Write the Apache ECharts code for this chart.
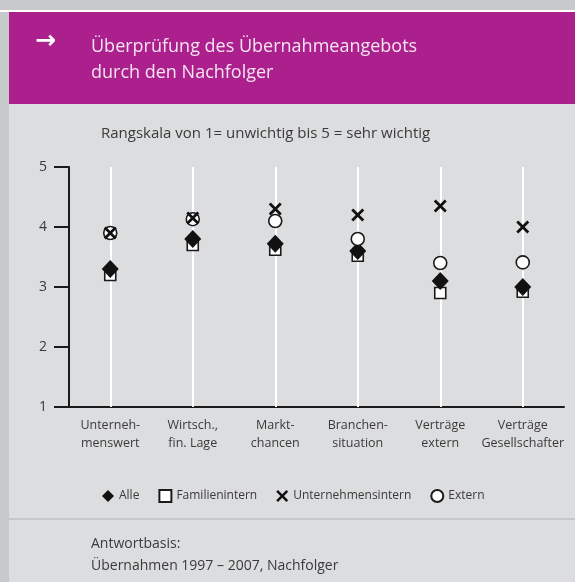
<!DOCTYPE html>
<html>
<head>
<meta charset="utf-8">
<script src="https://cdn.jsdelivr.net/npm/echarts@6/dist/echarts.min.js"></script>
<style>
  html, body { margin: 0; padding: 0; background: #c8c9cb; }
  #main { width: 575px; height: 582px; }
</style>
</head>
<body>
<div id="main"></div>
<script>
// Überprüfung des Übernahmeangebots – Rangskala 1..5

var categories = [
    'Unterneh-\nmenswert',
    'Wirtsch.,\nfin. Lage',
    'Markt-\nchancen',
    'Branchen-\nsituation',
    'Verträge\nextern',
    'Verträge\nGesellschafter'
];
var alle = [3.3, 3.8, 3.72, 3.6, 3.1, 3.0];
var familienintern = [3.2, 3.7, 3.62, 3.52, 2.9, 2.92];
var unternehmensintern = [3.9, 4.15, 4.3, 4.2, 4.35, 4.0];
var extern = [3.9, 4.13, 4.1, 3.8, 3.4, 3.41];
var yTicks = [1, 2, 3, 4, 5];

var textColor = '#3a3a3a';
var fontName = 'Open Sans';
var crossPath = 'path://M0,3L3,0L10,7L17,0L20,3L13,10L20,17L17,20L10,13L3,20L0,17L7,10Z';

var myChart = echarts.init(document.getElementById('main'));

var option = {
    animation: false,
    backgroundColor: '#c8c9cb',
    textStyle: { fontFamily: fontName },
    graphic: [
        { type: 'rect', shape: { x: 0, y: 10, width: 575, height: 2 }, style: { fill: '#ffffff' }, z: -10 },
        { type: 'rect', shape: { x: 9, y: 12, width: 566, height: 92 }, style: { fill: '#ab208c' }, z: -10 },
        { type: 'rect', shape: { x: 9, y: 104, width: 566, height: 478 }, style: { fill: '#dcdddf' }, z: -10 },
        { type: 'rect', shape: { x: 9, y: 518, width: 566, height: 2 }, style: { fill: '#c6c7c9' }, z: -9 },
        {
            type: 'text', left: 35, top: 29,
            style: { text: '→', fill: '#ffffff', font: 'bold 25px "DejaVu Sans"' }
        },
        {
            type: 'text', left: 91, top: 34,
            style: {
                text: 'Überprüfung des Übernahmeangebots\ndurch den Nachfolger',
                fill: '#f6e4f2', font: '18px "Open Sans"', lineHeight: 26
            }
        },
        {
            type: 'text', left: 101, top: 126,
            style: {
                text: 'Rangskala von 1= unwichtig bis 5 = sehr wichtig',
                fill: textColor, font: '15px "Open Sans"'
            }
        },
        {
            type: 'text', left: 91, top: 533,
            style: {
                text: 'Antwortbasis:\nÜbernahmen 1997 – 2007, Nachfolger',
                fill: textColor, font: '14px "Open Sans"', lineHeight: 22
            }
        }
    ],
    legend: {
        top: 484,
        left: 97,
        itemWidth: 12,
        itemHeight: 12,
        itemGap: 19,
        textStyle: { color: textColor, fontSize: 12, fontFamily: fontName },
        data: ['Alle', 'Familienintern', 'Unternehmensintern', 'Extern']
    },
    grid: {
        left: 69,
        top: 167,
        width: 495,
        height: 240
    },
    xAxis: {
        type: 'category',
        data: categories,
        axisLine: { lineStyle: { color: '#1a1a1a', width: 2 } },
        axisTick: { show: false },
        axisLabel: { interval: 0, color: textColor, fontSize: 12.5, lineHeight: 18, margin: 9, fontFamily: fontName },
        splitLine: { show: false }
    },
    yAxis: {
        type: 'value',
        min: yTicks[0],
        max: yTicks[yTicks.length - 1],
        interval: 1,
        axisLine: { show: true, lineStyle: { color: '#1a1a1a', width: 2 } },
        axisTick: { show: true, length: 15, lineStyle: { color: '#1a1a1a', width: 2 } },
        axisLabel: { color: textColor, fontSize: 14, margin: 22, fontFamily: fontName },
        splitLine: { show: false }
    },
    series: [
        {
            name: 'Familienintern',
            type: 'scatter',
            data: familienintern,
            symbol: 'rect',
            symbolSize: 11,
            z: 3,
            itemStyle: { color: '#ffffff', borderColor: '#1a1a1a', borderWidth: 1.6, opacity: 1 },
            markLine: {
                silent: true,
                symbol: ['none', 'none'],
                label: { show: false },
                lineStyle: { color: '#ffffff', width: 2, type: 'solid' },
                data: categories.map(function (c) { return { xAxis: c }; }),
                z: 1
            }
        },
        {
            name: 'Alle',
            type: 'scatter',
            data: alle,
            symbol: 'diamond',
            symbolSize: [17, 18],
            z: 4,
            itemStyle: { color: '#111111', opacity: 1 }
        },
        {
            name: 'Extern',
            type: 'scatter',
            data: extern,
            symbol: 'circle',
            symbolSize: 13,
            z: 5,
            itemStyle: { color: '#ffffff', borderColor: '#1a1a1a', borderWidth: 1.6, opacity: 1 }
        },
        {
            name: 'Unternehmensintern',
            type: 'scatter',
            data: unternehmensintern,
            symbol: crossPath,
            symbolSize: 13,
            z: 6,
            itemStyle: { color: '#111111', opacity: 1 }
        }
    ]
};

myChart.setOption(option);
</script>
</body>
</html>
